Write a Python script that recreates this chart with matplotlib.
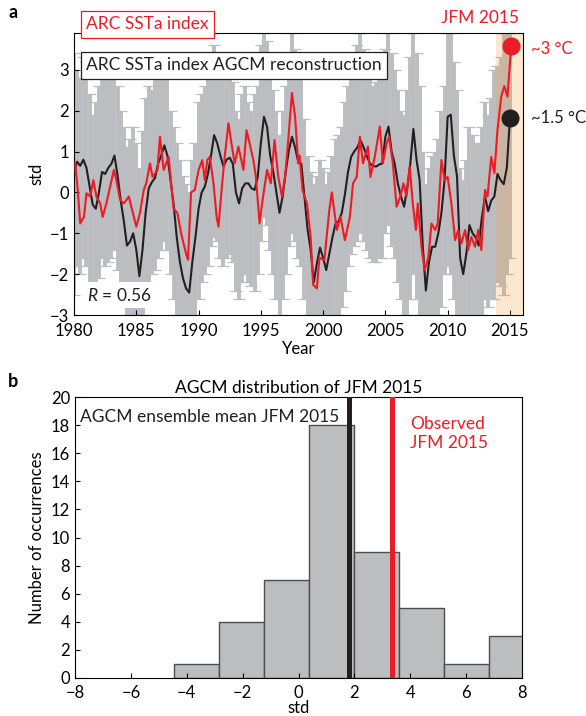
import matplotlib.pyplot as plt
import numpy as np

plt.rcParams['font.family'] = ['Lato', 'DejaVu Sans']
plt.rcParams['mathtext.fontset'] = 'custom'
plt.rcParams['mathtext.it'] = 'Lato:italic'
plt.rcParams['mathtext.rm'] = 'Lato'

RED = '#ec1c24'
BLACK = '#231f20'
GREY = '#bcbdc1'

# AGCM reconstruction (ensemble mean), quarterly values from 1980.0 to 2015.0
agcm = [0.5, 0.75, 0.65, 0.8, 0.6, 0.15, -0.3, -0.4,
        0.0, 0.5, 0.45, 0.6, 0.7, 0.9, 0.4, -0.2,
        -0.7, -1.3, -1.2, -1.0, -1.4, -2.05, -1.4, -0.5,
        0.1, 0.25, 0.35, 0.7, 0.9, 1.15, 0.9, 0.3,
        -0.3, -1.1, -1.7, -2.1, -2.35, -2.45, -1.7, -1.1,
        -0.4, 0.0, 0.14, 0.45, 0.9, 1.4, 1.2, 0.9,
        0.63, 0.8, 0.85, 0.7, 0.0, -0.27, 0.1, 0.22,
        0.22, 0.1, 0.06, 0.38, 1.2, 1.85, 1.6, 0.9,
        0.5, 0.0, -0.5, -0.1, 0.5, 1.03, 1.36, 1.1,
        0.75, 0.7, -0.1, -0.9, -1.4, -2.2, -1.74, -1.35,
        -1.6, -1.9, -1.5, -1.1, -0.76, -0.7, -0.5, -0.05,
        0.5, 0.87, 1.0, 1.1, 1.28, 1.1, 0.9, 0.71,
        0.65, 0.63, 0.68, 0.71, 1.36, 1.61, 1.0, 0.7,
        0.22, -0.1, -0.35, 0.1, 0.7, 1.55, 0.8, 0.3,
        -1.3, -2.4, -1.7, -1.33, -1.33, -1.0, -0.5, 0.3,
        1.85, 1.9, 0.9, 0.4, -1.6, -2.0, -1.5, -0.8,
        -1.0, -1.1, -1.3, -0.6, -0.1, -0.46, -0.2, -0.1,
        0.45, 0.3, 0.2, 0.6, 1.81]

# ensemble spread (upper / lower ends of the grey bars)
agcm_hi = [3.4, 3.0, 2.8, 3.3, 3.2, 2.4, 1.9, 2.2,
           2.6, 3.1, 2.9, 2.9, 3.0, 3.2, 2.6, 2.0,
           1.6, 1.1, 1.3, 1.6, 1.2, 0.6, 1.5, 2.3,
           2.6, 2.5, 2.8, 3.0, 3.0, 3.3, 3.2, 2.0,
           1.6, 1.2, 0.8, 0.4, 0.2, 0.0, 0.8, 1.2,
           2.2, 2.4, 2.6, 3.2, 3.3, 3.6, 3.4, 3.2,
           2.8, 3.3, 3.0, 2.7, 2.0, 1.8, 2.4, 2.6,
           2.2, 2.0, 2.4, 2.6, 3.6, 3.9, 3.7, 3.0,
           2.5, 2.0, 1.4, 2.0, 2.6, 3.3, 3.9, 3.5,
           2.9, 2.8, 1.8, 0.9, 0.5, 0.2, 0.4, 0.8,
           0.6, 0.2, 0.5, 0.9, 1.3, 1.4, 1.6, 2.2,
           2.6, 3.0, 3.3, 3.6, 3.9, 3.5, 3.0, 2.8,
           2.6, 2.7, 3.0, 3.0, 3.5, 3.9, 3.4, 3.0,
           2.5, 2.0, 1.9, 2.5, 3.3, 3.9, 3.4, 2.6,
           1.0, 0.2, 0.6, 0.9, 1.0, 1.3, 2.0, 2.6,
           3.9, 3.9, 3.2, 2.5, 0.6, 0.3, 0.8, 1.6,
           1.4, 1.2, 1.2, 1.6, 2.2, 1.9, 2.3, 3.0,
           3.1, 3.3, 3.9, 3.9, 3.9]
agcm_lo = [-2.5, -1.8, -2.0, -1.6, -1.8, -2.3, -2.6, -2.6,
           -2.1, -1.6, -1.8, -1.7, -1.6, -1.4, -1.9, -2.4,
           -2.8, -3.0, -3.0, -3.0, -3.0, -3.0, -3.0, -2.7,
           -2.2, -2.0, -1.9, -1.6, -1.4, -1.2, -1.4, -2.0,
           -2.6, -3.0, -3.0, -3.0, -3.0, -3.0, -3.0, -3.0,
           -2.6, -2.2, -2.0, -1.8, -1.3, -1.1, -1.2, -1.6,
           -1.8, -1.6, -1.5, -1.7, -2.4, -2.6, -2.2, -2.0,
           -2.2, -2.3, -2.4, -2.0, -1.2, -0.6, -0.8, -1.4,
           -2.0, -2.6, -3.0, -2.6, -2.0, -1.3, -1.0, -1.2,
           -1.6, -1.8, -2.6, -3.0, -3.0, -3.0, -3.0, -3.0,
           -3.0, -3.0, -3.0, -3.0, -3.0, -3.0, -2.8, -2.4,
           -1.8, -1.5, -1.3, -1.2, -1.0, -1.2, -1.4, -1.6,
           -1.7, -1.7, -1.6, -1.6, -1.0, -0.8, -1.3, -1.6,
           -2.2, -2.6, -3.0, -3.0, -2.6, -2.0, -2.6, -3.0,
           -3.0, -3.0, -3.0, -3.0, -3.0, -3.0, -2.8, -2.0,
           -1.8, -2.0, -2.6, -3.0, -3.0, -3.0, -3.0, -3.0,
           -3.0, -3.0, -3.0, -3.0, -2.6, -2.8, -2.6, -2.6,
           -2.2, -2.3, -2.5, -2.0, -1.6]
agcm_year = 1980.0 + 0.25 * np.arange(len(agcm))

# observed ARC SSTa index
obs_year = [1980.1, 1980.3, 1980.5, 1980.8, 1981.0, 1981.3, 1981.55, 1981.8,
            1982.1, 1982.3, 1982.6, 1982.9, 1983.2, 1983.4, 1983.7, 1984.0,
            1984.4, 1984.6, 1985.0, 1985.3, 1985.6, 1985.8, 1986.1, 1986.3,
            1986.7, 1986.9, 1987.2, 1987.6, 1987.8, 1988.0, 1988.3, 1988.6,
            1989.0, 1989.15, 1989.4, 1989.7, 1990.0, 1990.3, 1990.5, 1990.7,
            1990.9, 1991.2, 1991.45, 1991.6, 1991.85, 1992.1, 1992.4, 1992.6,
            1992.9, 1993.2, 1993.6, 1993.85, 1994.1, 1994.4, 1994.6, 1994.9,
            1995.1, 1995.5, 1995.8, 1996.1, 1996.4, 1996.7, 1996.95, 1997.2,
            1997.5, 1997.75, 1998.0, 1998.1, 1998.35, 1998.7, 1999.0, 1999.2,
            1999.5, 1999.7, 2000.1, 2000.5, 2000.7, 2001.1, 2001.4, 2001.75,
            2002.15, 2002.4, 2002.7, 2002.95, 2003.2, 2003.6, 2003.8, 2004.15,
            2004.55, 2004.8, 2005.1, 2005.3, 2005.6, 2005.9, 2006.2, 2006.45,
            2006.7, 2006.95, 2007.2, 2007.45, 2007.6, 2007.9, 2008.15, 2008.45,
            2008.7, 2009.0, 2009.2, 2009.5, 2009.75, 2010.0, 2010.3, 2010.6,
            2010.85, 2011.1, 2011.4, 2011.65, 2011.9, 2012.2, 2012.45, 2012.7,
            2013.0, 2013.2, 2013.5, 2013.75, 2014.0, 2014.3, 2014.55, 2014.8,
            2015.1]
obs = [0.71, 0.06, -0.76, -0.6, -0.02, -0.1, 0.3, -0.1,
       -0.27, -0.6, -0.27, 0.14, 0.55, 0.3, -0.18, -0.27,
       -0.1, -0.35, -0.84, -0.5, 0.06, 0.22, 0.71, 0.38,
       0.55, 1.36, 0.55, 0.87, 0.22, -0.4, -0.5, -1.0,
       -1.5, -1.65, 0.0, 0.06, 0.55, 0.79, 0.3, 0.79,
       0.87, 0.22, -0.6, -0.84, 0.06, 0.87, 1.69, 1.28,
       0.71, 1.12, 0.55, 1.52, 1.2, 0.79, 0.38, -0.76,
       -0.27, 0.55, 0.22, 1.28, 0.38, -0.1, 0.38, 1.28,
       2.43, 1.85, 0.71, 0.9, 0.05, -0.27, -1.09, -2.26,
       -2.35, -1.6, -1.66, -0.43, 0.0, -0.92, -0.6, -1.17,
       -0.6, 0.22, 0.38, 1.36, 0.71, 1.12, 0.38, 0.87,
       1.61, 0.71, 1.2, 1.36, 0.71, -0.35, -0.1, 0.22,
       -0.1, 0.63, -0.27, -0.92, -0.27, -1.33, -1.9, -1.6,
       -0.76, -0.92, -0.76, 0.79, 0.3, 0.38, -0.27, -1.17,
       -0.92, -1.25, -0.92, -1.41, -1.09, -1.33, -0.92, -1.41,
       0.06, -0.1, 0.87, 0.47, 1.52, 2.34, 2.6, 2.34,
       3.57]

# panel b: AGCM distribution of JFM 2015
bin_edges = [-4.46, -2.85, -1.24, 0.37, 1.98, 3.59, 5.2, 6.81, 8.42]
counts = [1, 4, 7, 18, 9, 5, 1, 3]
ens_mean = 1.81
observed = 3.35

fig = plt.figure(figsize=(5.86, 7.16), dpi=100)

# ---------------- panel a ----------------
ax = fig.add_axes([0.1263, 0.560, 0.7662, 0.394])
agcm_a = np.array(agcm)
eb = ax.errorbar(agcm_year, agcm_a,
                 yerr=[agcm_a - np.array(agcm_lo), np.array(agcm_hi) - agcm_a],
                 fmt='none', ecolor=GREY, elinewidth=2.8, capsize=4.5,
                 capthick=0.9, zorder=1)
for cap in eb[1]:
    cap.set_color('#c9cacd')
ax.axvspan(2013.87, 2016.05, color='#f5a04a', alpha=0.25, lw=0, zorder=2)
ax.plot(agcm_year, agcm, color=BLACK, lw=1.5, zorder=3)
ax.plot(obs_year, obs, color=RED, lw=1.5, zorder=4)
ax.plot(obs_year[-1], obs[-1], 'o', ms=12, color=RED, zorder=6, clip_on=False)
ax.plot(agcm_year[-1], agcm[-1], 'o', ms=12, color=BLACK, zorder=5, clip_on=False)

ax.set_xlim(1980, 2016.05)
ax.set_ylim(-3, 3.9)
ax.set_xticks(range(1980, 2016, 5))
ax.set_yticks(range(-3, 4))
ax.tick_params(direction='in', length=3.5, labelsize=12, width=0.8)
ax.tick_params(axis='x', pad=6)
ax.set_xlabel('Year', fontsize=12, labelpad=1)
ax.set_ylabel('std', fontsize=12, labelpad=4)

ax.text(0.027, 1.03, 'ARC SSTa index', transform=ax.transAxes, color=RED,
        fontsize=12.5, va='center', ha='left', zorder=10, clip_on=False,
        bbox=dict(boxstyle='square,pad=0.3', fc='white', ec=RED, lw=0.9))
ax.text(0.027, 0.885, 'ARC SSTa index AGCM reconstruction', transform=ax.transAxes,
        color=BLACK, fontsize=12.5, va='center', ha='left', zorder=10,
        bbox=dict(boxstyle='square,pad=0.3', fc='white', ec=BLACK, lw=0.9))
ax.text(0.03, 0.07, '$R$ = 0.56', transform=ax.transAxes, color=BLACK,
        fontsize=12.5, va='center', ha='left', zorder=10,
        bbox=dict(boxstyle='square,pad=0.25', fc='white', ec='none'))
ax.text(0.99, 1.025, 'JFM 2015', transform=ax.transAxes, color=RED,
        fontsize=12.5, va='bottom', ha='right')
ax.text(1.018, 0.943, '~3 °C', transform=ax.transAxes, color=RED,
        fontsize=12, va='center', ha='left')
ax.text(1.018, 0.698, '~1.5 °C', transform=ax.transAxes, color=BLACK,
        fontsize=12, va='center', ha='left')
fig.text(0.014, 0.983, 'a', fontsize=13, fontweight='bold', va='center')

# ---------------- panel b ----------------
bx = fig.add_axes([0.128, 0.0531, 0.763, 0.3924])
bx.bar(bin_edges[:-1], counts, width=np.diff(bin_edges), align='edge',
       color=GREY, edgecolor='#4d4d4d', lw=1, zorder=1)
bx.axvline(ens_mean, color=BLACK, lw=3.6, zorder=3)
bx.axvline(observed, color=RED, lw=3.6, zorder=3)
bx.set_xlim(-8, 8)
bx.set_ylim(0, 20)
bx.set_xticks(range(-8, 9, 2))
bx.set_yticks(range(0, 21, 2))
bx.tick_params(direction='in', length=3.5, labelsize=12, width=0.8)
bx.tick_params(axis='x', pad=5)
bx.set_xlabel('std', fontsize=12, labelpad=-1)
bx.set_ylabel('Number of occurrences', fontsize=12, labelpad=4)
bx.set_title('AGCM distribution of JFM 2015', fontsize=12.5, pad=3)
bx.text(0.012, 0.93, 'AGCM ensemble mean JFM 2015', transform=bx.transAxes,
        color=BLACK, fontsize=12.5, va='center', ha='left')
bx.text(0.75, 0.87, 'Observed\nJFM 2015', transform=bx.transAxes, color=RED,
        fontsize=12.5, va='center', ha='left', linespacing=1.2)
fig.text(0.014, 0.467, 'b', fontsize=13, fontweight='bold', va='center')

fig.savefig('out.png', dpi=100)
